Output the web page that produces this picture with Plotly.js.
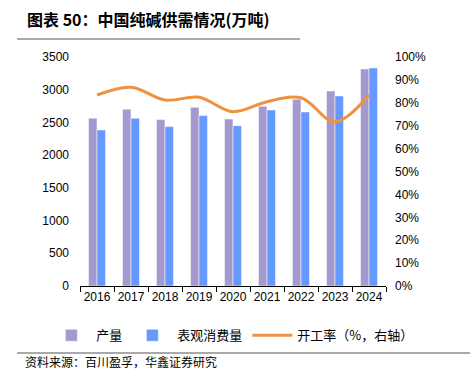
<!DOCTYPE html>
<html><head><meta charset="utf-8">
<script src="https://cdn.plot.ly/plotly-3.0.1.min.js"></script>
<style>html,body{margin:0;padding:0;background:#fff}#c{width:473px;height:370px}</style>
</head><body><div id="c"></div>
<script>
const years = ['2016','2017','2018','2019','2020','2021','2022','2023','2024'];
const production = [2564, 2702, 2543, 2732, 2553, 2747, 2854, 2981, 3318];
const consumption = [2385, 2564, 2436, 2604, 2451, 2691, 2660, 2905, 3333];
const utilization = [83.4, 86.8, 81.2, 82.4, 76.1, 80.5, 82.2, 71.7, 83.4];
const leftTicks = [0, 500, 1000, 1500, 2000, 2500, 3000, 3500];
const rightTicks = [0,10,20,30,40,50,60,70,80,90,100];

const fontTick = {family: 'Liberation Sans, Arial, sans-serif', size: 12, color: '#000'};
const cjk = 'Noto Sans CJK SC, sans-serif';

const traces = [
  {type:'bar', name:'产量', x:years, y:production, marker:{color:'#A59ACF', line:{color:'#fff', width:0.5}}},
  {type:'bar', name:'表观消费量', x:years, y:consumption, marker:{color:'#6699FF', line:{color:'#fff', width:0.5}}},
  {type:'scatter', mode:'lines', name:'开工率（%，右轴）', x:years, y:utilization, yaxis:'y2',
   line:{color:'#F0913F', width:3, shape:'spline', smoothing:1}}
];

const layout = {
  width:473, height:370,
  margin:{l:80, r:87, t:57, b:84},
  paper_bgcolor:'#fff', plot_bgcolor:'#fff',
  barmode:'group', bargap:0.5, bargroupgap:0,
  showlegend:true,
  title:{text:'<b>图表 50：中国纯碱供需情况(万吨)</b>', font:{family:cjk, size:16, color:'#000'},
         x:27/473, xanchor:'left', xref:'container', y:1-20/370, yanchor:'middle', yref:'container'},
  xaxis:{type:'category', showline:true, linecolor:'#000', linewidth:1, ticks:'outside', tickson:'boundaries',
         ticklen:5, tickcolor:'#000', showgrid:false, tickfont:fontTick, tickangle:0},
  yaxis:{range:[0,3500], tickvals:leftTicks, showgrid:false, zeroline:false, showline:false,
         tickfont:fontTick, ticks:'', ticklabelstandoff:10},
  yaxis2:{range:[0,100], overlaying:'y', side:'right', tickvals:rightTicks, ticktext:rightTicks.map(v=>v+'%'),
          showgrid:false, zeroline:false, showline:false, tickfont:fontTick, ticks:'', ticklabelstandoff:8},
  legend:{orientation:'h', x:-0.11, xanchor:'left', y:-0.15, yanchor:'top',
          font:{family:cjk, size:13, color:'#000'}, itemwidth:40, tracegroupgap:0},
  shapes:[
    {type:'line', xref:'paper', yref:'paper', x0:(17-80)/306, x1:(300-80)/306, y0:(286-39)/229, y1:(286-39)/229,
     line:{color:'#555', width:1.2}},
    {type:'line', xref:'paper', yref:'paper', x0:(17-80)/306, x1:(470-80)/306, y0:(286-353)/229, y1:(286-353)/229,
     line:{color:'#555', width:1.2}}
  ],
  annotations:[
    {text:'资料来源：百川盈孚，华鑫证券研究', xref:'paper', yref:'paper', x:(24-80)/306, y:(286-361)/229,
     xanchor:'left', yanchor:'middle', showarrow:false, borderpad:0, font:{family:cjk, size:12, color:'#000'}}
  ]
};
Plotly.newPlot('c', traces, layout, {displayModeBar:false, staticPlot:true});
</script></body></html>
